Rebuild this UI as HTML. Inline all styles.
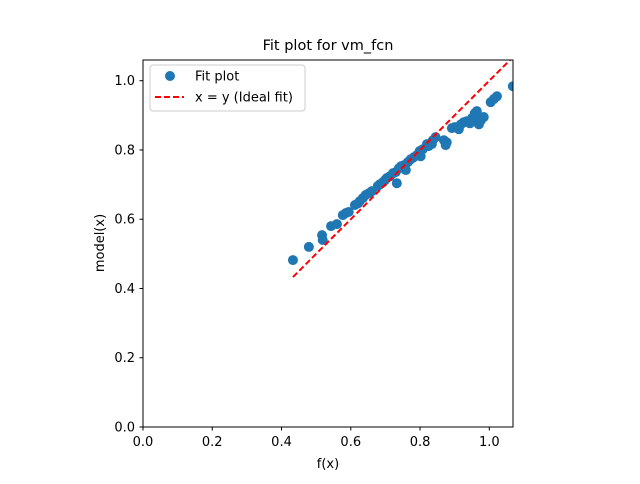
<!DOCTYPE html>
<html><head><meta charset="utf-8"><style>
body{margin:0;background:#fff;font-family:"DejaVu Sans","Liberation Sans",sans-serif}
</style></head><body>
<svg id="chart" width="640" height="480" xmlns="http://www.w3.org/2000/svg">
<defs><clipPath id="clip"><rect x="143" y="60" width="370" height="367"/></clipPath></defs>
<rect width="640" height="480" fill="#fff"/>
<g id="marks" clip-path="url(#clip)"></g>
<rect x="143" y="60" width="370" height="367" fill="none" stroke="#000" stroke-width="1"/>
<g id="ticks" font-size="13" fill="#000"></g>
<text x="328" y="50" text-anchor="middle" font-size="14.5">Fit plot for vm_fcn</text>
<text x="328" y="468" text-anchor="middle" font-size="13">f(x)</text>
<text x="104" y="243" text-anchor="middle" font-size="13" transform="rotate(-90 104 243)">model(x)</text>
<g>
<rect x="150" y="65" width="155" height="46" rx="3" fill="#fff" fill-opacity="0.8" stroke="#ccc"/>
<circle cx="170" cy="76" r="5" fill="#1f77b4"/>
<text x="195" y="80.5" font-size="13">Fit plot</text>
<line x1="155" y1="97" x2="184" y2="97" stroke="red" stroke-width="2" stroke-dasharray="6,3"/>
<text x="195" y="101.5" font-size="13">x = y (Ideal fit)</text>
</g>
</svg>
<script>
const fx=[.433,.479,.517,.519,.543,.560,.577,.586,.594,.612,.621,.626,.635,.643,.652,.661,.678,.684,.693,.699,.704,.713,.722,.730,.733,.739,.745,.753,.759,.765,.773,.782,.791,.799,.802,.808,.820,.825,.834,.837,.845,.869,.874,.877,.892,.900,.912,.918,.926,.935,.944,.950,.958,.964,.970,.976,.984,1.004,1.013,1.022,1.068];
const my=[.482,.520,.554,.540,.580,.586,.612,.618,.621,.641,.646,.652,.661,.670,.675,.681,.696,.701,.707,.713,.719,.724,.733,.736,.704,.747,.753,.756,.742,.765,.773,.779,.785,.797,.782,.802,.817,.811,.817,.828,.837,.828,.814,.822,.863,.866,.860,.874,.880,.883,.877,.892,.906,.912,.874,.886,.895,.938,.947,.955,.984];
const xTicks=[0,0.2,0.4,0.6,0.8,1.0];
const yTicks=[0,0.2,0.4,0.6,0.8,1.0];
const tickLabels=["0.0","0.2","0.4","0.6","0.8","1.0"];
const NS="http://www.w3.org/2000/svg";
const X=v=>143+v*346.3, Y=v=>427-v*346.3;
const marks=document.getElementById('marks'), ticks=document.getElementById('ticks');
function mk(t,a,p){const e=document.createElementNS(NS,t);for(const k in a)e.setAttribute(k,a[k]);p.appendChild(e);return e;}
for(let i=0;i<fx.length;i++){
 const c=mk('circle',{cx:X(fx[i]),cy:Y(my[i]),r:5,fill:'#1f77b4'},marks);
 
 
}
const mn=Math.min(...fx), mx=Math.max(...fx);
const l=mk('line',{x1:X(mn),y1:Y(mn),x2:X(mx),y2:Y(mx),stroke:'red','stroke-width':2,'stroke-dasharray':'6,3'},marks);


xTicks.forEach((v,i)=>{
 mk('line',{x1:X(v),x2:X(v),y1:427,y2:430.5,stroke:'#000'},ticks);
 const t=mk('text',{x:X(v),y:446,'text-anchor':'middle'},ticks);t.textContent=tickLabels[i];
 
 
});
yTicks.forEach((v,i)=>{
 mk('line',{x1:139.5,x2:143,y1:Y(v),y2:Y(v),stroke:'#000'},ticks);
 const t=mk('text',{x:135,y:Y(v)+4.5,'text-anchor':'end'},ticks);t.textContent=tickLabels[i];
 
 
});
</script>
</body></html>
